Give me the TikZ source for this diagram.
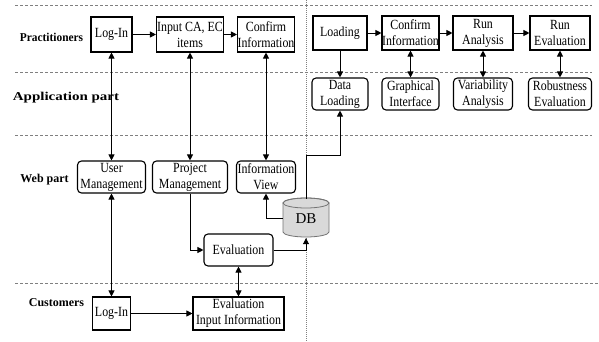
\documentclass[tikz,border=0pt]{standalone}
\usepackage{fontspec}
\setmainfont{Liberation Serif}
\newfontfamily\boxfont{Liberation Serif}[FakeStretch=0.85]
\usetikzlibrary{arrows.meta}
\begin{document}
\begin{tikzpicture}[x=1pt,y=-1pt,
  >={Triangle[length=6pt,width=6pt]},
  box/.style={draw,line width=1.1pt,align=center,inner sep=0pt,font=\boxfont\fontsize{14}{16}\selectfont},
  rbox/.style={box,rounded corners=4pt},
  conn/.style={line width=0.9pt,->},
  bconn/.style={line width=0.9pt,<->},
  sepline/.style={draw=black!50,line width=0.6pt,dash pattern=on 3pt off 2pt},
  vline/.style={draw=black!50,line width=0.6pt,dash pattern=on 1pt off 1pt},
  lbl/.style={font=\fontsize{12}{14}\selectfont\bfseries,inner sep=0pt}]
\useasboundingbox (0,0) rectangle (599,342);

% separators
\draw[sepline] (15,5) -- (592,5);
\draw[sepline] (15,72) -- (592,72);
\draw[sepline] (15,135) -- (592,135);
\draw[sepline] (15,283) -- (598,283);
\draw[vline] (306,0) -- (306,342);

% lane labels
\node[lbl] (lP) at (51.5,37) {\scalebox{0.95}[1]{Practitioners}};
\node[lbl] (lA) at (66,98) {\scalebox{1.25}[1]{Application part}};
\node[lbl] (lW) at (44.5,180) {Web part};
\node[lbl] (lC) at (56.5,303) {Customers};

% practitioners (left)
\node[box,minimum width=41pt,minimum height=35pt] (pLog) at (111.5,34.5) {Log-In};
\node[box,minimum width=67pt,minimum height=35pt] (pInput) at (190,34.5) {Input CA, EC\\items};
\node[box,minimum width=57pt,minimum height=35pt] (pConf) at (266,34.5) {Confirm\\Information};

% practitioners (right)
\node[box,minimum width=54pt,minimum height=34pt] (rLoad) at (340,33) {Loading};
\node[box,minimum width=57pt,minimum height=34pt] (rConf) at (410.5,33) {Confirm\\Information};
\node[box,minimum width=60pt,minimum height=34pt] (rRunA) at (483,33) {Run\\Analysis};
\node[box,minimum width=60pt,minimum height=34pt] (rRunE) at (560,33) {Run\\Evaluation};

% application part
\node[rbox,minimum width=56pt,minimum height=32pt] (aData) at (340,94) {Data\\Loading};
\node[rbox,minimum width=57pt,minimum height=32pt] (aGraph) at (410.5,94) {Graphical\\Interface};
\node[rbox,minimum width=59pt,minimum height=32pt] (aVar) at (483,94) {Variability\\Analysis};
\node[rbox,minimum width=63pt,minimum height=32pt] (aRob) at (560,94) {Robustness\\Evaluation};

% web part
\node[rbox,minimum width=68pt,minimum height=32pt] (wUser) at (111.5,177) {User\\Management};
\node[rbox,minimum width=75pt,minimum height=32pt] (wProj) at (190,177) {Project\\Management};
\node[rbox,minimum width=59pt,minimum height=32pt] (wInfo) at (266,177) {Information\\View};
\node[rbox,minimum width=69pt,minimum height=32pt] (wEval) at (238.5,250) {Evaluation};

% DB cylinder
\path[draw=black!55,fill=black!15,line width=0.8pt]
  (283,203) -- (283,232) arc[start angle=180,end angle=0,x radius=23,y radius=5]
  -- (329,203) arc[start angle=0,end angle=-180,x radius=23,y radius=5] -- cycle;
\draw[draw=black!55,line width=0.8pt] (306,203) ellipse[x radius=23,y radius=5];
\node[minimum width=46pt,minimum height=39pt,inner sep=0pt,font=\fontsize{15}{17}\selectfont] (db) at (306,218.5) {DB};

% customers
\node[box,minimum width=38pt,minimum height=33pt] (cLog) at (111.5,313.5) {Log-In};
\node[box,minimum width=91pt,minimum height=33pt] (cEvIn) at (238.5,313.5) {Evaluation\\Input Information};

% connectors
\draw[conn] (pLog) -- (pInput);
\draw[conn] (pInput) -- (pConf);
\draw[conn] (rLoad) -- (rConf);
\draw[conn] (rConf) -- (rRunA);
\draw[conn] (rRunA) -- (rRunE);
\draw[conn] (rLoad) -- (aData);
\draw[bconn] (rConf) -- (aGraph);
\draw[bconn] (rRunA) -- (aVar);
\draw[bconn] (rRunE) -- (aRob);
\draw[bconn] (pLog) -- (wUser);
\draw[bconn] (wUser) -- (cLog);
\draw[bconn] (pInput) -- (wProj);
\draw[bconn] (pConf) -- (wInfo);
\draw[bconn] (wEval) -- (cEvIn);
\draw[conn] (cLog) -- (cEvIn);
\draw[conn] (wProj.south) |- (wEval.west);
\draw[conn] (db.west) -| (wInfo.south);
\draw[conn] (wEval.east) -| (db.south);
\coordinate (dbk) at (306,155);
\draw[conn] (db.north) -- (dbk) -| (aData.south);
\end{tikzpicture}
\end{document}
